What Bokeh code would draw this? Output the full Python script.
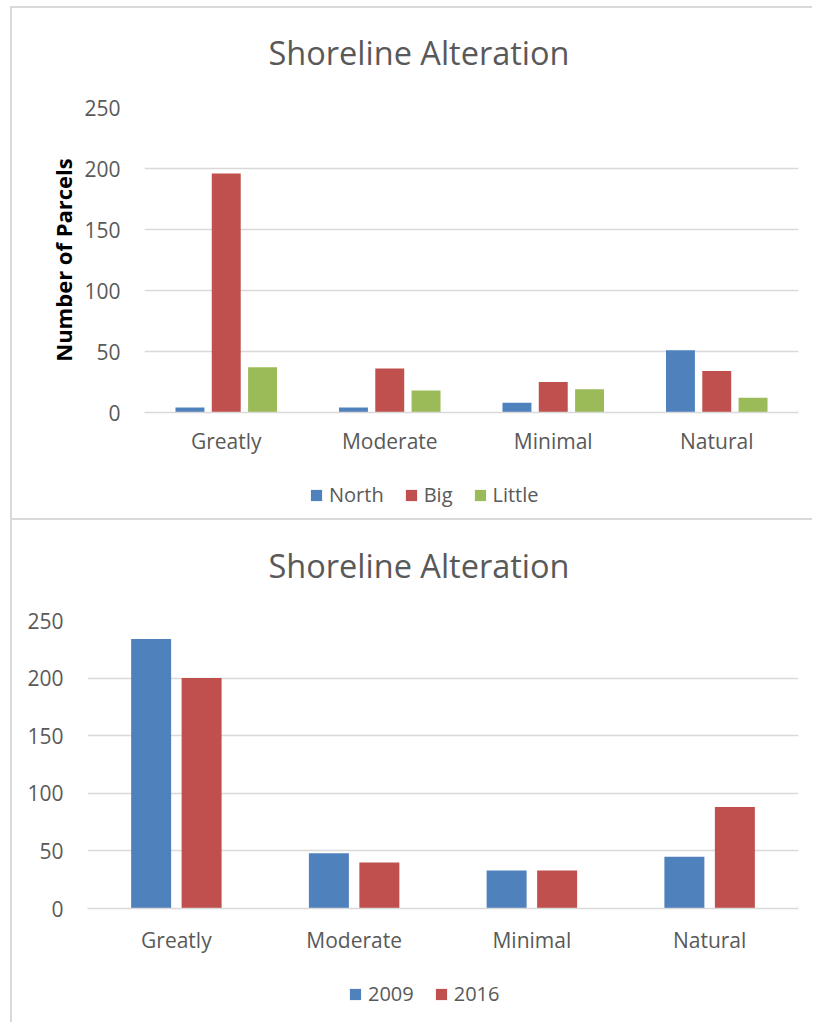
from bokeh.plotting import figure
from bokeh.models import ColumnDataSource, FactorRange, Range1d, FixedTicker, Legend, LegendItem, Label
from bokeh.transform import dodge
from bokeh.embed import file_html
from bokeh.resources import INLINE

title_text = "Shoreline Alteration"
categories = ["Greatly", "Moderate", "Minimal", "Natural"]
north = [4, 4, 8, 51]
big = [196, 36, 25, 34]
little = [37, 18, 19, 12]
y2009 = [234, 48, 33, 45]
y2016 = [200, 40, 33, 88]
y_ticks = [0, 50, 100, 150, 200, 250]

BLUE = "#4f81bd"
RED = "#c0504d"
GREEN = "#9bbb59"
GRID = "#d9d9d9"
TXT = "#595959"
FONT = "Open Sans"
BORDER = "2px solid #d9d9d9"
W = 802


def bare_fig(height):
    q = figure(width=W, height=height, output_backend="svg", toolbar_location=None,
               x_axis_location=None, y_axis_location=None,
               min_border_left=0, min_border_right=0, min_border_top=0, min_border_bottom=0)
    q.outline_line_color = None
    q.grid.visible = False
    return q


def title_fig(height, margin_top, cx, cy):
    q = bare_fig(height)
    q.x_range = Range1d(0, W)
    q.y_range = Range1d(0, 1)
    q.add_layout(Label(x=cx, y=cy, text=title_text, text_align="center", text_baseline="middle",
                       text_font=FONT, text_font_size="32.5px", text_color=TXT))
    q.styles = {"border-left": BORDER, "border-top": BORDER,
                "margin-left": "10px", "margin-top": margin_top}
    return q


def chart_fig(height, left, top, bottom, xstandoff):
    p = figure(x_range=FactorRange(*categories, range_padding=0), y_range=Range1d(0, 250),
               width=W, height=height, output_backend="svg", toolbar_location=None,
               min_border_left=left, min_border_right=16, min_border_top=top, min_border_bottom=bottom)
    p.outline_line_color = None
    p.xgrid.grid_line_color = None
    p.ygrid.grid_line_color = GRID
    p.ygrid.grid_line_width = 1.4
    p.yaxis.ticker = FixedTicker(ticks=y_ticks)
    p.yaxis.axis_line_color = None
    p.yaxis.major_tick_line_color = None
    p.yaxis.minor_tick_line_color = None
    p.yaxis.major_tick_out = 0
    p.yaxis.major_label_standoff = 24
    p.yaxis.major_label_text_font = FONT
    p.yaxis.major_label_text_font_size = "21px"
    p.yaxis.major_label_text_color = TXT
    p.xaxis.axis_line_color = GRID
    p.xaxis.axis_line_width = 1.4
    p.xaxis.major_tick_line_color = None
    p.xaxis.minor_tick_line_color = None
    p.xaxis.major_tick_out = 0
    p.xaxis.major_label_standoff = xstandoff
    p.xaxis.major_label_text_font = FONT
    p.xaxis.major_label_text_font_size = "21px"
    p.xaxis.major_label_text_color = TXT
    p.styles = {"border-left": BORDER, "margin-left": "10px"}
    return p


def legend_fig(height, labels, colors, x, y):
    q = bare_fig(height)
    items = []
    for lab, col in zip(labels, colors):
        r = q.vbar(x=[0], top=[0], width=0.5, fill_color=col, line_color=None)
        items.append(LegendItem(label=lab, renderers=[r]))
    leg = Legend(items=items, location=(x, y), orientation="horizontal",
                 glyph_width=14, glyph_height=14, label_standoff=6, spacing=20,
                 padding=0, margin=0, border_line_color=None, background_fill_alpha=0,
                 label_text_font=FONT, label_text_font_size="20px", label_text_color=TXT)
    q.add_layout(leg)
    q.styles = {"border-left": BORDER, "margin-left": "10px"}
    return q


# ---- top chart ----
t1 = title_fig(70, "6px", 406.5, 0.371)
src1 = ColumnDataSource(dict(cat=categories, north=north, big=big, little=little))
p1 = chart_fig(392, 132, 31, 56, 14)
p1.yaxis.axis_label = "Number of Parcels"
p1.yaxis.axis_label_text_font = FONT
p1.yaxis.axis_label_text_font_size = "22px"
p1.yaxis.axis_label_text_font_style = "bold"
p1.yaxis.axis_label_text_color = "#000000"
p1.yaxis.axis_label_standoff = 3
p1.vbar(x=dodge("cat", -0.222, range=p1.x_range), top="north", width=0.177, source=src1,
        fill_color=BLUE, line_color=None)
p1.vbar(x=dodge("cat", 0.0, range=p1.x_range), top="big", width=0.177, source=src1,
        fill_color=RED, line_color=None)
p1.vbar(x=dodge("cat", 0.222, range=p1.x_range), top="little", width=0.177, source=src1,
        fill_color=GREEN, line_color=None)
l1 = legend_fig(50, ["North", "Big", "Little"], [BLUE, RED, GREEN], 297, 10)

# ---- bottom chart ----
t2 = title_fig(70, "0px", 406.5, 0.357)
src2 = ColumnDataSource(dict(cat=categories, y2009=y2009, y2016=y2016))
p2 = chart_fig(368, 75, 32, 48, 17)
p2.vbar(x=dodge("cat", -0.142, range=p2.x_range), top="y2009", width=0.225, source=src2,
        fill_color=BLUE, line_color=None)
p2.vbar(x=dodge("cat", 0.142, range=p2.x_range), top="y2016", width=0.225, source=src2,
        fill_color=RED, line_color=None)
l2 = legend_fig(66, ["2009", "2016"], [BLUE, RED], 336, 15)

open("out.html", "w").write(file_html([t1, p1, l1, t2, p2, l2], INLINE))
